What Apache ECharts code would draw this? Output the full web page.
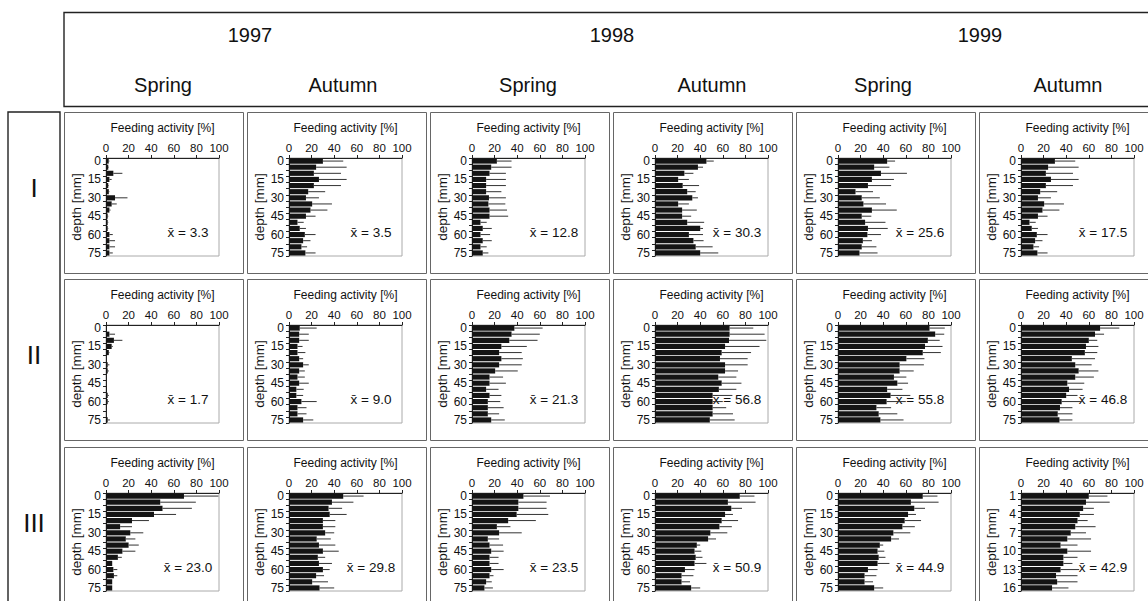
<!DOCTYPE html>
<html>
<head>
<meta charset="utf-8">
<style>
html, body { margin: 0; padding: 0; background: #fff; }
#chart { width: 1148px; height: 601px; }
</style>
<script src="https://cdn.jsdelivr.net/npm/echarts@6/dist/echarts.min.js"></script>
</head>
<body>
<div id="chart"></div>
<script>
// depth classes (mm) and the alternative numbering used in the last panel
const depths = ['0', '5', '10', '15', '20', '25', '30', '35', '40', '45', '50', '55', '60', '65', '70', '75']
const layers = ['1', '2', '3', '4', '5', '6', '7', '8', '9', '10', '11', '12', '13', '14', '15', '16']
const years = ['1997', '1998', '1999']
const seasons = ['Spring', 'Autumn', 'Spring', 'Autumn', 'Spring', 'Autumn']
const sites = ['I', 'II', 'III']

// feeding activity [%] per depth, and upper end of the error bar (mean + sd)
const I_97sp = [2.4, 2, 6.5, 3, 2, 2.5, 8, 5, 3, 1.5, 1.5, 1.5, 3, 3, 3, 3]
const I_97spHi = [3, 2.5, 14.5, 5, 2.5, 3, 19, 9.5, 4, 2, 2, 2, 6, 8, 8, 6]
const I_97au = [30, 24, 22, 26.5, 22, 17, 15, 20.5, 19, 15, 7.5, 9.5, 14, 12.5, 11, 14.5]
const I_97auHi = [48, 51, 46, 51, 46, 32, 26.5, 38, 34, 23.5, 13, 15, 23.5, 19, 16, 23.5]
const I_98sp = [22, 17, 15.5, 12.5, 12.5, 12.5, 15, 14.5, 15.5, 15.5, 7.5, 9.5, 7.5, 9.5, 7.5, 9.5]
const I_98spHi = [35, 35, 30, 30, 30, 26, 30, 29.5, 31, 32, 13, 17.5, 16, 17.5, 13, 14.5]
const I_98au = [45.5, 38, 26, 20.5, 24.5, 28.5, 33, 20.5, 24, 24, 28.5, 40, 30, 34, 36, 40]
const I_98auHi = [52, 42.5, 34, 30, 39, 36, 38, 30, 37, 32, 43.5, 42.5, 42.5, 43, 51, 56]
const I_99sp = [43.5, 32, 38, 30, 26.5, 15.5, 21, 22.5, 30, 21, 24, 26.5, 26, 22, 21, 19]
const I_99spHi = [50.5, 45.5, 61, 49.5, 47, 31, 37, 42.5, 52, 29.5, 42, 44, 38, 30, 34, 35]
const I_99au = [30, 24, 22, 26.5, 22, 17, 15, 20.5, 19, 15, 7.5, 9.5, 14, 12.5, 11, 14.5]
const I_99auHi = [48, 51, 46, 51, 46, 32, 26.5, 38, 34, 23.5, 13, 15, 23.5, 19, 16, 23.5]

const II_97sp = [0.5, 3, 7, 5, 2.5, 0, 1.5, 1.5, 0, 0, 0.5, 1.5, 1.5, 0, 0, 1.5]
const II_97spHi = [0.5, 8, 14.5, 6, 3, 0, 3, 2.5, 0, 0, 0.5, 2.5, 2.5, 0, 0, 3.5]
const II_97au = [9.5, 9, 9, 7.5, 7.5, 9, 12.5, 9, 7.5, 9, 6.5, 6.5, 11, 7.5, 7.5, 12.5]
const II_97auHi = [24.5, 17.5, 17.5, 12, 14.5, 12.5, 17.5, 14, 14, 17.5, 13, 12.5, 24.5, 15.5, 15.5, 21.5]
const II_98sp = [37.5, 35, 33, 26, 24, 26, 24, 20.5, 15.5, 15.5, 12.5, 15.5, 14, 14, 14, 17]
const II_98spHi = [62.5, 60, 58, 48.5, 44, 45, 44, 40.5, 27.5, 30, 23.5, 26, 25, 28, 24, 29]
const II_98au = [66, 66, 65.5, 62, 59, 57.5, 62, 62, 56, 59, 56.5, 51, 51, 51, 51, 48.5]
const II_98auHi = [87, 97, 98.5, 92.5, 85, 82, 82, 73.5, 72, 76.5, 72, 68.5, 60, 63, 69, 70.5]
const II_99sp = [81, 86, 79.5, 77, 75, 60.5, 54.5, 54.5, 49.5, 52.5, 43.5, 46.5, 43, 34, 36, 37.5]
const II_99spHi = [94.5, 94, 90, 92.5, 91, 76.5, 76, 67, 60.5, 62, 57, 64, 60, 47, 52.5, 58]
const II_99au = [70, 65.5, 60, 57.5, 56.5, 45, 48, 51, 48, 41, 42.5, 40, 36, 34.5, 32.5, 34]
const II_99auHi = [87, 73.5, 67.5, 68.5, 67.5, 65.5, 62.5, 68.5, 64.5, 56, 54.5, 50, 53, 45.5, 45.5, 45.5]

const III_97sp = [69, 48, 50, 42.5, 23, 12.5, 21.5, 17.5, 20, 14.5, 10.5, 5.5, 6.5, 7, 5.5, 5.5]
const III_97spHi = [99.5, 79.5, 76, 62, 38, 23, 33, 26, 29, 26, 14, 5.5, 10, 10, 5.5, 5.5]
const III_97au = [48, 38, 35, 36, 30, 30, 32, 24.5, 26.5, 30, 25.5, 26.5, 30, 24, 20.5, 27]
const III_97auHi = [66, 57, 47, 51, 41, 41, 40, 37, 41, 44, 32, 38, 36, 31, 34.5, 40]
const III_98sp = [45.5, 41, 41, 39.5, 32, 22, 24, 14, 15.5, 17, 15.5, 15.5, 17, 15.5, 12.5, 11]
const III_98spHi = [69, 66, 66, 67.5, 56.5, 34, 44, 24, 27.5, 28, 23.5, 23.5, 28, 19, 17.5, 18.5]
const III_98au = [75, 64.5, 67.5, 62, 59, 57, 49, 47, 37, 35, 36, 35, 26.5, 23.5, 23.5, 32]
const III_98auHi = [88, 89, 77, 69, 73.5, 68, 64, 54, 40, 41, 42, 45.5, 35, 34, 31, 40]
const III_99sp = [75, 64.5, 67.5, 62, 59, 57, 49, 47, 37, 35, 36, 35, 26.5, 23.5, 23.5, 32]
const III_99spHi = [88, 89, 77, 69, 73.5, 68, 64, 54, 40, 41, 42, 45.5, 35, 34, 31, 40]
const III_99au = [60, 57.5, 55, 52, 50, 48, 44, 41, 35, 41, 37.5, 37.5, 35, 31, 32, 27.5]
const III_99auHi = [76.5, 78.5, 64.5, 64.5, 59, 66, 57.5, 62, 50, 62, 50, 45.5, 51.5, 50, 50, 42]

// mean feeding activity printed in each panel
const meansI = ['3.3', '3.5', '12.8', '30.3', '25.6', '17.5']
const meansII = ['1.7', '9.0', '21.3', '56.8', '55.8', '46.8']
const meansIII = ['23.0', '29.8', '23.5', '50.9', '44.9', '42.9']

const panels = [
  [[I_97sp, I_97spHi], [I_97au, I_97auHi], [I_98sp, I_98spHi], [I_98au, I_98auHi], [I_99sp, I_99spHi], [I_99au, I_99auHi]],
  [[II_97sp, II_97spHi], [II_97au, II_97auHi], [II_98sp, II_98spHi], [II_98au, II_98auHi], [II_99sp, II_99spHi], [II_99au, II_99auHi]],
  [[III_97sp, III_97spHi], [III_97au, III_97auHi], [III_98sp, III_98spHi], [III_98au, III_98auHi], [III_99sp, III_99spHi], [III_99au, III_99auHi]]
]
const means = [meansI, meansII, meansIII]

const FONT = 'Liberation Sans, Arial, Helvetica, sans-serif'
const colLeft = [64, 247, 430, 613, 796, 979]
const rowTop = [112, 279, 447]
const PW = 179
const PH = 161
const yearX = [250, 612, 980]
const seasonX = [163, 343, 528, 712, 883, 1068]

const chart = echarts.init(document.getElementById('chart'), null, { renderer: 'svg' })

const grid = []
const xAxis = []
const yAxis = []
const series = []
const graphic = []

const text = (str, x, y, size) => ({
  type: 'text',
  style: {
    text: str, x: x, y: y, fill: '#111', fontSize: size, fontFamily: FONT,
    align: 'center', verticalAlign: 'middle', textAlign: 'center', textVerticalAlign: 'middle'
  },
  silent: true
})

// header
graphic.push({ type: 'rect', shape: { x: 64, y: 12.5, width: 1120, height: 94 }, style: { fill: 'none', stroke: '#222', lineWidth: 1.4 }, silent: true })
years.forEach((y, i) => graphic.push(text(y, yearX[i], 35, 20)))
seasons.forEach((s, i) => graphic.push(text(s, seasonX[i], 85, 20)))

// site box
graphic.push({ type: 'rect', shape: { x: 8, y: 112, width: 52, height: 520 }, style: { fill: 'none', stroke: '#222', lineWidth: 1.4 }, silent: true })
sites.forEach((s, r) => graphic.push(text(s, 34, rowTop[r] + 76, 26)))

panels.forEach((row, r) => {
  row.forEach((cell, c) => {
    const k = r * 6 + c
    const gl = colLeft[c] + 42
    const gt = rowTop[r] + 46
    graphic.push({ type: 'rect', shape: { x: colLeft[c] + 0.5, y: rowTop[r] + 0.5, width: PW, height: PH }, style: { fill: 'none', stroke: '#666', lineWidth: 1 }, silent: true })
    graphic.push(text('x\u0304 = ' + means[r][c], gl + 82, gt + 74, 13.5))

    grid.push({ left: gl, top: gt, width: 113, height: 98, show: true, borderColor: '#aaa', borderWidth: 1 })
    xAxis.push({
      gridIndex: k, type: 'value', min: 0, max: 100, interval: 20, position: 'top',
      name: 'Feeding activity [%]', nameLocation: 'middle', nameGap: 24,
      nameTextStyle: { fontSize: 12, color: '#111', fontFamily: FONT },
      axisLine: { show: true, lineStyle: { color: '#222', width: 1 } },
      axisTick: { show: true, length: 3, lineStyle: { color: '#222' } },
      axisLabel: { fontSize: 11.5, color: '#111', margin: 4, fontFamily: FONT },
      splitLine: { show: false }
    })
    yAxis.push({
      gridIndex: k, type: 'category', inverse: true,
      data: (r === 2 && c === 5) ? layers : depths,
      name: 'depth [mm]', nameLocation: 'middle', nameGap: 23, nameRotate: 90,
      nameTextStyle: { fontSize: 13.5, color: '#111', fontFamily: FONT },
      axisLine: { show: true, lineStyle: { color: '#222', width: 1 } },
      axisTick: { show: true, interval: 0, length: 3, lineStyle: { color: '#222' } },
      axisLabel: { interval: 2, fontSize: 12, color: '#111', margin: 5, fontFamily: FONT }
    })
    series.push({
      type: 'bar', xAxisIndex: k, yAxisIndex: k, data: cell[0],
      barCategoryGap: '16%', itemStyle: { color: '#141414' }, silent: true
    })
    series.push({
      type: 'custom', xAxisIndex: k, yAxisIndex: k, z: 3, silent: true,
      data: cell[0].map((v, i) => [i, v, cell[1][i]]),
      encode: { x: [1, 2], y: 0 },
      renderItem: (params, api) => {
        const idx = api.value(0)
        const a = api.coord([api.value(1), idx])
        const b = api.coord([api.value(2), idx])
        return {
          type: 'line',
          shape: { x1: a[0], y1: a[1], x2: b[0], y2: b[1] },
          style: { stroke: '#333', lineWidth: 1 }
        }
      }
    })
  })
})

chart.setOption({
  animation: false,
  backgroundColor: '#fff',
  grid: grid,
  xAxis: xAxis,
  yAxis: yAxis,
  series: series,
  graphic: graphic
})
</script>
</body>
</html>
